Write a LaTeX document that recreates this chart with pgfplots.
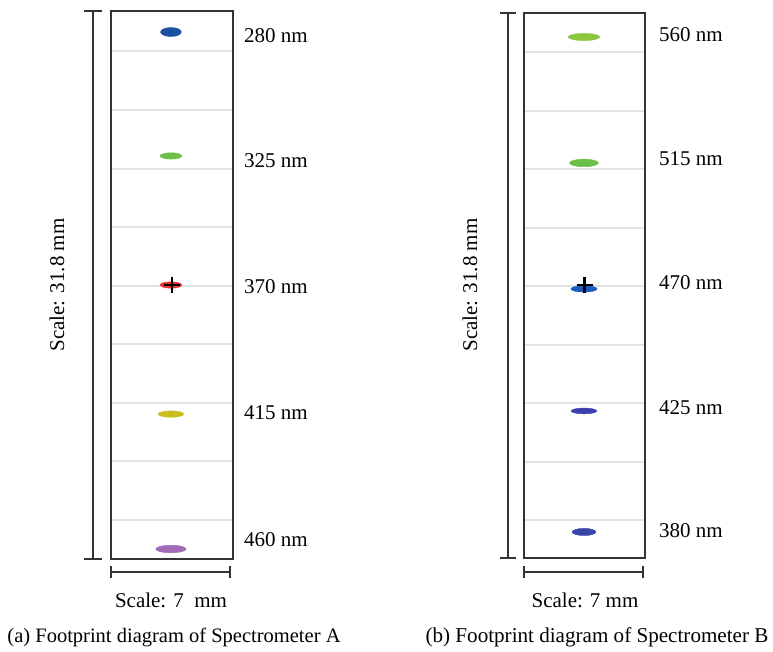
\documentclass[border=0pt]{standalone}
\usepackage{pgfplots}
\pgfplotsset{compat=1.18}
\usepackage{fontspec}
\setmainfont{Liberation Serif}
\definecolor{boxc}{HTML}{333333}
\definecolor{gridc}{HTML}{E2E2E2}
\definecolor{cA1}{HTML}{1D4FA3}
\definecolor{cA2}{HTML}{6CC04A}
\definecolor{cA3}{HTML}{E8322C}
\definecolor{cA4}{HTML}{C9BE1E}
\definecolor{cA5}{HTML}{A06CB8}
\definecolor{cB1}{HTML}{8DC63F}
\definecolor{cB2}{HTML}{6CC04A}
\definecolor{cB3}{HTML}{1A5CC0}
\definecolor{cB4}{HTML}{3A40B0}
\definecolor{cB5}{HTML}{3A45A8}
\pgfplotsset{
  foot/.style={
    scale only axis, xmin=0, xmax=7, ymin=0, ymax=31.8,
    axis line style={line width=2.6pt, boxc},
    xtick=\empty, yticklabels={}, major tick length=0pt,
    ymajorgrids, grid style={line width=2pt, gridc},
    clip=false,
  },
  spot/.style n args={3}{only marks, mark=*, mark size=#2pt, color=#1,
    mark options={draw=#1, fill=#1, xscale=#3}, forget plot},
}
\newcommand{\labfont}{\fontsize{21}{25}\selectfont}
\begin{document}
\begin{tikzpicture}[x=1pt,y=1pt]
\useasboundingbox (0,0) rectangle (773,651);
% ---------- Panel A ----------
\begin{axis}[foot, at={(111pt,92pt)}, anchor=south west, width=122pt, height=548pt,
  ytick={2.26,5.66,9.06,12.46,15.86,19.26,22.66,26.06,29.46}]
\addplot[spot={cA1}{4.5}{2.3}] coordinates {(3.44,30.58)};
\addplot[spot={cA2}{3.2}{3.4}] coordinates {(3.44,23.39)};
\addplot[spot={cA3}{3.2}{3.4}] coordinates {(3.44,15.90)};
\addplot[only marks, mark=+, mark size=8pt, mark options={line width=2.5pt, black}] coordinates {(3.5,15.90)};
\addplot[spot={cA4}{3.2}{4.0}] coordinates {(3.44,8.41)};
\addplot[spot={cA5}{3.8}{4.0}] coordinates {(3.44,0.58)};
\end{axis}
% ---------- Panel B ----------
\begin{axis}[foot, at={(524pt,93pt)}, anchor=south west, width=121pt, height=545pt,
  ytick={2.22,5.63,9.04,12.45,15.86,19.27,22.68,26.09,29.50}]
\addplot[spot={cB1}{3.6}{4.4}] coordinates {(3.47,30.40)};
\addplot[spot={cB2}{3.8}{3.8}] coordinates {(3.47,23.05)};
\addplot[spot={cB3}{3.2}{4.1}] coordinates {(3.47,15.70)};
\addplot[only marks, mark=+, mark size=8pt, mark options={line width=2.5pt, black}] coordinates {(3.5,15.93)};
\addplot[spot={cB4}{2.9}{4.4}] coordinates {(3.47,8.58)};
\addplot[spot={cB5}{3.6}{3.3}] coordinates {(3.47,1.52)};
\end{axis}
% ---------- scale bars ----------
\begin{scope}[line width=2pt, boxc]
\draw (93,640) -- (93,92); \draw (84,640) -- (102,640); \draw (84,92) -- (102,92);
\draw (111,79) -- (230,79); \draw (111,73) -- (111,85); \draw (230,73) -- (230,85);
\draw (508,638) -- (508,93); \draw (500,638) -- (516,638); \draw (500,93) -- (516,93);
\draw (524,79) -- (643,79); \draw (524,73) -- (524,85); \draw (643,73) -- (643,85);
\end{scope}
% ---------- labels ----------
\node[rotate=90, font=\labfont] at (57,366) {Scale: 31.8 mm};
\node[rotate=90, font=\labfont] at (470,366) {Scale: 31.8 mm};
\node[font=\labfont] at (171,51) {Scale: 7\ \ mm};
\node[font=\labfont] at (585,51) {Scale: 7 mm};
\foreach \t/\y in {280 nm/615, 325 nm/490, 370 nm/364, 415 nm/238, 460 nm/111}
  \node[font=\labfont, anchor=west, inner sep=0pt] at (244,\y) {\t};
\foreach \t/\y in {560 nm/616, 515 nm/492, 470 nm/368, 425 nm/243, 380 nm/120}
  \node[font=\labfont, anchor=west, inner sep=0pt] at (659,\y) {\t};
\node[font=\fontsize{20.5}{24}\selectfont] at (174,14) {(a) Footprint diagram of Spectrometer A};
\node[font=\fontsize{21.1}{25}\selectfont] at (597,14) {(b) Footprint diagram of Spectrometer B};
\end{tikzpicture}
\end{document}
